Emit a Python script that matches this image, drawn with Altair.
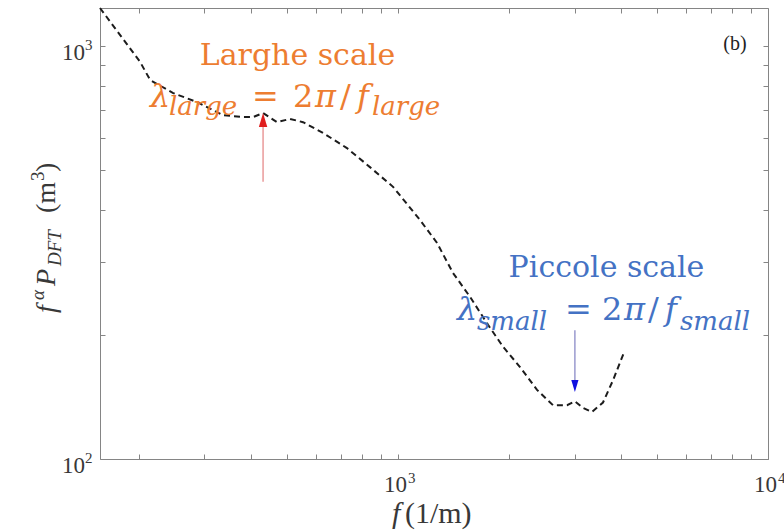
import altair as alt
import pandas as pd

# ---------------- data ----------------
freq = [156.6, 201, 214, 247, 286, 337, 381, 406, 432, 471, 511, 554, 627, 728, 840, 970,
        1147, 1274, 1409, 1566, 1741, 1923, 2137, 2376, 2624, 2864, 3007, 3162, 3343, 3581,
        3811, 4081]
psd = [1236, 915, 827, 769, 732, 680, 673, 673, 688, 654, 666, 654, 616, 566, 509, 456,
       379, 334, 282, 247, 213, 187, 167, 147, 135, 135, 138, 133, 130, 137, 155, 181]

x_tick_values = [200, 300, 400, 500, 600, 700, 800, 900, 1000,
                 2000, 3000, 4000, 5000, 6000, 7000, 8000, 9000, 10000]
y_tick_values = [100, 200, 300, 400, 500, 600, 700, 800, 900, 1000]
x_domain = [156.6, 10000]
y_domain = [100, 1236]

# labelled decades: value and exponent
x_label_values = [1000, 10000]
x_label_exps = ["3", "4"]
y_label_values = [100, 1000]
y_label_exps = ["2", "3"]

# arrows: frequency, tail value, shaft end value, head value
arrow_f = [432, 3007]
arrow_tail = [469, 205]
arrow_end = [640, 154.5]
arrow_head = [662, 150.2]

# annotation anchors (data coordinates)
big_labels = ["Larghe scale", "Piccole scale"]
big_f = [535, 3660]
big_p = [899.5, 275.9]
panel_label = "(b)"
panel_f, panel_p = 8144, 1011
large_anchor = (213.6, 711.7)
small_anchor = (1444, 217)
ytitle_anchor = (156.6, 225.7)
xtitle_anchor = (1000, 100)

FRAME = "#858585"
LABEL = "#383838"
ORANGE = "#ED7D31"
BLUE = "#4472C4"

xs = alt.Scale(type="log", domain=x_domain, nice=False, zero=False)
ys = alt.Scale(type="log", domain=y_domain, nice=False, zero=False)

curve_df = pd.DataFrame({"f": freq, "p": psd})

def tick_axis(orient, values):
    return alt.Axis(orient=orient, values=values, labels=False, grid=False, domain=False,
                    ticks=True, tickSize=5, tickColor=FRAME, tickWidth=1, offset=-5, title=None)

curve = alt.Chart(curve_df).mark_line(strokeDash=[6, 4], strokeWidth=2, color="#1c1c1c").encode(
    x=alt.X("f:Q", scale=xs, axis=tick_axis("bottom", x_tick_values)),
    y=alt.Y("p:Q", scale=ys, axis=tick_axis("left", y_tick_values)),
)
frame = alt.Chart(curve_df).mark_point(opacity=0).encode(
    x=alt.X("f:Q", scale=xs, axis=tick_axis("top", x_tick_values)),
    y=alt.Y("p:Q", scale=ys, axis=tick_axis("right", y_tick_values)),
)

def piece(txt, f, p, dx=0, dy=0, size=30, color="black", font="DejaVu Serif",
          style="normal", angle=0, align="left", baseline="alphabetic", weight="normal"):
    df = pd.DataFrame({"f": [f], "p": [p]})
    kw = dict(text=txt, font=font, fontSize=size, fontStyle=style, color=color,
              align=align, baseline=baseline, dx=dx, dy=dy, fontWeight=weight)
    if angle:
        kw["angle"] = angle
    return alt.Chart(df).mark_text(**kw).encode(
        x=alt.X("f:Q", scale=xs, axis=None),
        y=alt.Y("p:Q", scale=ys, axis=None),
    )

layers = [curve, frame]

# tick labels 10^n drawn as base + raised exponent
for v, e in zip(x_label_values, x_label_exps):
    layers.append(piece("10", v, y_domain[0], dx=-14, dy=33, size=23, color=LABEL, font="Liberation Serif"))
    layers.append(piece(e, v, y_domain[0], dx=10, dy=24, size=15, color=LABEL, font="Liberation Serif"))
for v, e in zip(y_label_values, y_label_exps):
    layers.append(piece("10", x_domain[0], v, dx=-38, dy=14, size=23, color=LABEL, font="Liberation Serif"))
    layers.append(piece(e, x_domain[0], v, dx=-15, dy=4, size=15, color=LABEL, font="Liberation Serif"))

# arrows
arr_df = pd.DataFrame({"f": arrow_f, "p": arrow_tail, "p2": arrow_end,
                       "h": arrow_head, "k": ["large", "small"]})
shaft_colors = alt.Scale(domain=["large", "small"], range=["#E99A9A", "#9A9ACF"])
layers.append(alt.Chart(arr_df).mark_rule(strokeWidth=1.5).encode(
    x=alt.X("f:Q", scale=xs, axis=None),
    y=alt.Y("p:Q", scale=ys, axis=None),
    y2="p2:Q",
    color=alt.Color("k:N", scale=shaft_colors, legend=None),
))
layers.append(alt.Chart(arr_df[arr_df.k == "large"]).mark_point(
    shape="M-0.6,1L0,-1L0.6,1Z", filled=True, size=196, opacity=1, color="#E01E1E").encode(
    x=alt.X("f:Q", scale=xs, axis=None), y=alt.Y("h:Q", scale=ys, axis=None)))
layers.append(alt.Chart(arr_df[arr_df.k == "small"]).mark_point(
    shape="M-0.6,-1L0,1L0.6,-1Z", filled=True, size=144, opacity=1, color="#1010E0").encode(
    x=alt.X("f:Q", scale=xs, axis=None), y=alt.Y("h:Q", scale=ys, axis=None)))

# big labels
layers.append(piece(big_labels[0], big_f[0], big_p[0], size=30, color=ORANGE, align="center"))
layers.append(piece(big_labels[1], big_f[1], big_p[1], size=30, color=BLUE, align="center"))

# formulas
def formula(anchor, sub, color, offs, subdy):
    f, p = anchor
    parts = [("λ", offs[0], 0, 32, "italic"), (sub, offs[1], subdy, 26, "italic"),
             ("=", offs[2], 0, 32, "normal"), ("2", offs[3], 0, 32, "normal"),
             ("π", offs[4], 0, 32, "italic"), ("/", offs[5], 0, 32, "normal"),
             ("f", offs[6], 0, 32, "italic"), (sub, offs[7], subdy, 26, "italic")]
    return [piece(t, f, p, dx=dx, dy=dy, size=s, color=color, style=st) for t, dx, dy, s, st in parts]

layers += formula(large_anchor, "large", ORANGE, [0, 19, 102, 143, 165, 190, 207, 222], 8)
layers += formula(small_anchor, "small", BLUE, [0, 20, 108, 145, 167, 191, 208, 223], 10)

# panel label
layers.append(piece(panel_label, panel_f, panel_p, size=20, color="#222222",
                    font="Liberation Serif", align="center", baseline="middle"))

# x title: f(1/m)
xf, xp = xtitle_anchor
layers.append(piece("f", xf, xp, dx=-6, dy=64, size=30, color=LABEL, font="Liberation Serif", style="italic"))
layers.append(piece("(1/m)", xf, xp, dx=7, dy=64, size=30, color=LABEL, font="Liberation Serif"))

# y title: f^α P_DFT (m^3), rotated
yf, yp = ytitle_anchor
ypieces = [("f", 0, -45, 28, "italic"), ("α", 13, -56, 19, "italic"),
           ("P", 27, -45, 28, "italic"), ("DFT", 47, -39, 19, "italic"),
           ("(m", 100, -45, 28, "normal"), ("3", 132, -56, 19, "normal"),
           (")", 141, -45, 28, "normal")]
for t, dx, dy, s, st in ypieces:
    layers.append(piece(t, yf, yp, dx=dx, dy=dy, size=s, color=LABEL, font="Liberation Serif",
                        style=st, angle=270))

chart = alt.layer(*layers).resolve_axis(x="independent", y="independent").properties(
    width=668, height=451,
    autosize=alt.AutoSizeParams(type="none"),
    padding={"left": 100, "top": 8, "right": 16, "bottom": 72},
    background="white",
).configure_view(stroke=FRAME, strokeWidth=1)

chart.save("out.html", embed_options={"renderer": "svg", "actions": False})
